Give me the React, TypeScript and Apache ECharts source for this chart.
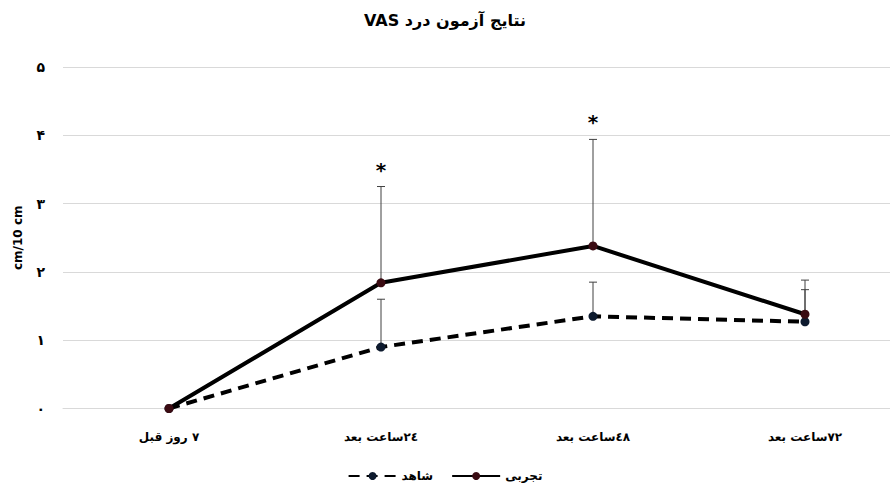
import React, { useEffect, useRef } from "react";
import * as echarts from "echarts";

const categories = ["۷ روز قبل", "٢٤ساعت بعد", "٤٨ساعت بعد", "٧٢ساعت بعد"];
const seriesNames = ["شاهد", "تجربی"];
const experimental = [0, 1.84, 2.38, 1.38];
const control = [0, 0.9, 1.35, 1.27];
const experimentalUpper = [0, 3.25, 3.94, 1.88];
const controlUpper = [0, 1.6, 1.85, 1.74];
const significant = [0, 1, 1, 0];
const yTickLabels = ["۰", "۱", "۲", "۳", "۴", "۵"];
const titleText = "نتایج آزمون درد VAS";
const yAxisName = "cm/10 cm";

const FONT = "'DejaVu Sans', sans-serif";
const rtl = (s: string) => "\u202B" + s + "\u202C";

export default function App() {
  const ref = useRef<HTMLDivElement>(null);
  useEffect(() => {
    if (!ref.current) return;
    const chart = echarts.init(ref.current, undefined, { renderer: "svg" });

    const errData = (vals: number[], ups: number[], withSig: boolean) =>
      vals
        .map((v, i) => [i, v, ups[i], withSig ? significant[i] : 0])
        .filter((d) => d[2] > d[1]);

    const errRender = (params: any, api: any) => {
      const x = api.value(0);
      const v = api.value(1);
      const up = api.value(2);
      const sig = api.value(3);
      const p0 = api.coord([x, v]);
      const p1 = api.coord([x, up]);
      const st = { stroke: "#404040", lineWidth: 1 };
      const children: any[] = [
        { type: "line", shape: { x1: p0[0], y1: p0[1], x2: p1[0], y2: p1[1] }, style: st },
        { type: "line", shape: { x1: p1[0] - 4, y1: p1[1], x2: p1[0] + 4, y2: p1[1] }, style: st },
      ];
      if (sig) {
        children.push({
          type: "text",
          style: {
            text: "*",
            x: p1[0],
            y: p1[1] - 17,
            align: "center",
            verticalAlign: "middle",
            font: "bold 20px " + FONT,
            fill: "#000",
          },
        });
      }
      return { type: "group", children };
    };

    chart.setOption({
      animation: false,
      title: {
        text: rtl(titleText),
        left: "center",
        top: 7,
        textStyle: { fontFamily: FONT, fontWeight: "bold", fontSize: 16, color: "#000" },
      },
      grid: { left: 63, right: -21, top: 67, bottom: 85.5, outerBoundsMode: "none" },
      legend: {
        data: seriesNames,
        bottom: 7,
        left: "center",
        itemWidth: 48,
        itemHeight: 10,
        itemGap: 18,
        textStyle: { fontFamily: FONT, fontWeight: "bold", fontSize: 12, color: "#000" },
      },
      xAxis: {
        type: "category",
        data: categories,
        boundaryGap: true,
        axisLine: { lineStyle: { color: "#d9d9d9", width: 1 } },
        axisTick: { show: false },
        axisLabel: {
          margin: 22,
          fontFamily: FONT,
          fontWeight: "bold",
          fontSize: 12,
          color: "#000",
          formatter: (v: string) => rtl(v),
        },
      },
      yAxis: {
        type: "value",
        min: 0,
        max: 5,
        interval: 1,
        name: yAxisName,
        nameLocation: "middle",
        nameRotate: 90,
        nameGap: 39,
        nameTextStyle: { fontFamily: FONT, fontWeight: "bold", fontSize: 12, color: "#000" },
        axisLine: { show: false },
        axisTick: { show: false },
        splitLine: { lineStyle: { color: "#d9d9d9", width: 1 } },
        axisLabel: {
          margin: 18,
          fontFamily: FONT,
          fontWeight: "bold",
          fontSize: 14,
          color: "#000",
          formatter: (v: number) => yTickLabels[Math.round(v)] ?? String(v),
        },
      },
      series: [
        {
          type: "custom",
          name: "err-control",
          renderItem: errRender,
          data: errData(control, controlUpper, false),
          encode: { x: 0, y: [1, 2] },
          z: 1,
          silent: true,
        },
        {
          type: "custom",
          name: "err-exp",
          renderItem: errRender,
          data: errData(experimental, experimentalUpper, true),
          encode: { x: 0, y: [1, 2] },
          z: 1,
          silent: true,
        },
        {
          type: "line",
          name: seriesNames[0],
          data: control,
          z: 3,
          symbol: "circle",
          symbolSize: 9,
          itemStyle: { color: "#0d1a2e" },
          lineStyle: { color: "#000", width: 4, type: [11, 7] },
        },
        {
          type: "line",
          name: seriesNames[1],
          data: experimental,
          z: 4,
          symbol: "circle",
          symbolSize: 9,
          itemStyle: { color: "#3a0b12" },
          lineStyle: { color: "#000", width: 4 },
        },
      ],
    });
    return () => chart.dispose();
  }, []);
  return (
    <div
      ref={ref}
      style={{ position: "fixed", left: 0, top: 0, width: 890, height: 494, background: "#fff" }}
    />
  );
}
